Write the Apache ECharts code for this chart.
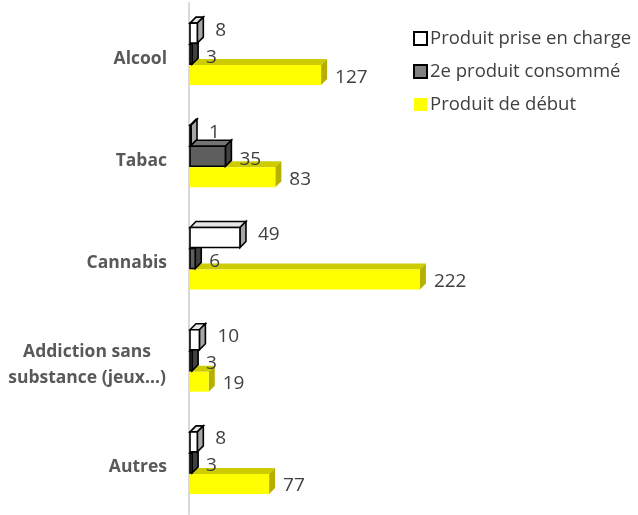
<!DOCTYPE html>
<html lang="fr">
<head>
    <meta charset="UTF-8">
    <title>Produits</title>
    <style>
        body { margin: 0; background: #fff; }
        #chart { width: 638px; height: 515px; }
    </style>
    <script src="https://cdn.jsdelivr.net/npm/echarts@6/dist/echarts.min.js"></script>
</head>
<body>
    <div id="chart"></div>
    <script>
        // données
        const categories = ['Alcool', 'Tabac', 'Cannabis', 'Addiction sans substance (jeux…)', 'Autres'];
        const seriesNames = ['Produit prise en charge', '2e produit consommé', 'Produit de début'];
        const priseEnCharge = [8, 1, 49, 10, 8];
        const deuxiemeProduit = [3, 35, 6, 3, 3];
        const produitDebut = [127, 83, 222, 19, 77];

        const BAR_H = 20;   // épaisseur de la face avant
        const DEPTH = 6;    // profondeur 3D

        // styles 3D par série
        const looks = [
            { front: '#ffffff', top: '#e6e6e6', side: '#a6a6a6', stroke: '#000', offset: -21, labelDx: 18, labelDy: -3 },
            { front: '#5e5e5e', top: '#747474', side: '#404040', stroke: '#000', offset: 0, labelDx: 14, labelDy: 3 },
            { front: '#ffff00', top: '#cccc00', side: '#b5b000', stroke: null, offset: 21, labelDx: 14, labelDy: 2 }
        ];

        function renderBar(look) {
            return function (params, api) {
                const v = api.value(0);
                const ci = api.value(1);
                const p0 = api.coord([0, ci]);
                const p1 = api.coord([v, ci]);
                const cy = p0[1] + look.offset;
                const x0 = p0[0] + 1;
                const x1 = Math.max(p1[0], x0 + 1);
                const y0 = cy - BAR_H / 2;
                const y1 = cy + BAR_H / 2;
                const lw = look.stroke ? 1.6 : 0;
                const st = (fill) => ({ fill: fill, stroke: look.stroke || fill, lineWidth: lw });
                return {
                    type: 'group',
                    children: [
                        { type: 'polygon', shape: { points: [[x0, y0], [x0 + DEPTH, y0 - DEPTH], [x1 + DEPTH, y0 - DEPTH], [x1, y0]] }, style: st(look.top) },
                        { type: 'polygon', shape: { points: [[x1, y0], [x1 + DEPTH, y0 - DEPTH], [x1 + DEPTH, y1 - DEPTH], [x1, y1]] }, style: st(look.side) },
                        { type: 'rect', shape: { x: x0, y: y0, width: x1 - x0, height: BAR_H }, style: st(look.front) },
                        {
                            type: 'text', z2: 10,
                            style: {
                                text: String(v), x: x1 + look.labelDx, y: cy + look.labelDy,
                                verticalAlign: 'middle', align: 'left',
                                fill: '#404040', font: '19px "Open Sans"'
                            }
                        }
                    ]
                };
            };
        }

        const allValues = [priseEnCharge, deuxiemeProduit, produitDebut];
        const legendColors = [
            { color: '#ffffff', borderColor: '#000', borderWidth: 2 },
            { color: '#808080', borderColor: '#000', borderWidth: 2 },
            { color: '#ffff00', borderWidth: 0 }
        ];

        const chart = echarts.init(document.getElementById('chart'));

        const option = {
            animation: false,
            textStyle: { fontFamily: 'Open Sans' },
            grid: { left: 189, top: 3, height: 511, right: 189 },
            legend: {
                orient: 'vertical',
                left: 408,
                top: 24,
                itemWidth: 13,
                itemHeight: 13,
                itemGap: 14,
                icon: 'rect',
                textStyle: { fontSize: 18.5, color: '#404040', padding: [0, 0, 0, -2] },
                data: seriesNames.map((n, i) => ({ name: n, itemStyle: legendColors[i] }))
            },
            xAxis: { type: 'value', min: 0, max: 250, show: false },
            yAxis: {
                type: 'category',
                inverse: true,
                data: categories,
                axisTick: { show: false },
                axisLine: { lineStyle: { color: '#d9d9d9', width: 2 } },
                axisLabel: {
                    margin: 22,
                    color: '#595959',
                    fontSize: 17.5,
                    fontWeight: 'bold',
                    fontFamily: 'Open Sans',
                    padding: [9, 0, 0, 0],
                    formatter: function (val) {
                        if (val.indexOf('Addiction') === 0) {
                            return '{c|Addiction sans}\n{c|substance (jeux…)}';
                        }
                        return val;
                    },
                    rich: {
                        c: { width: 160, align: 'center', fontSize: 17.5, fontWeight: 'bold', color: '#595959', fontFamily: 'Open Sans', lineHeight: 26 }
                    }
                }
            },
            series: seriesNames.map((name, i) => ({
                name: name,
                type: 'custom',
                z: 4 - i,
                itemStyle: { color: legendColors[i].color },
                encode: { x: 0, y: 1 },
                data: allValues[i].map((v, k) => [v, k]),
                renderItem: renderBar(looks[i])
            }))
        };

        chart.setOption(option);
    </script>
</body>
</html>
